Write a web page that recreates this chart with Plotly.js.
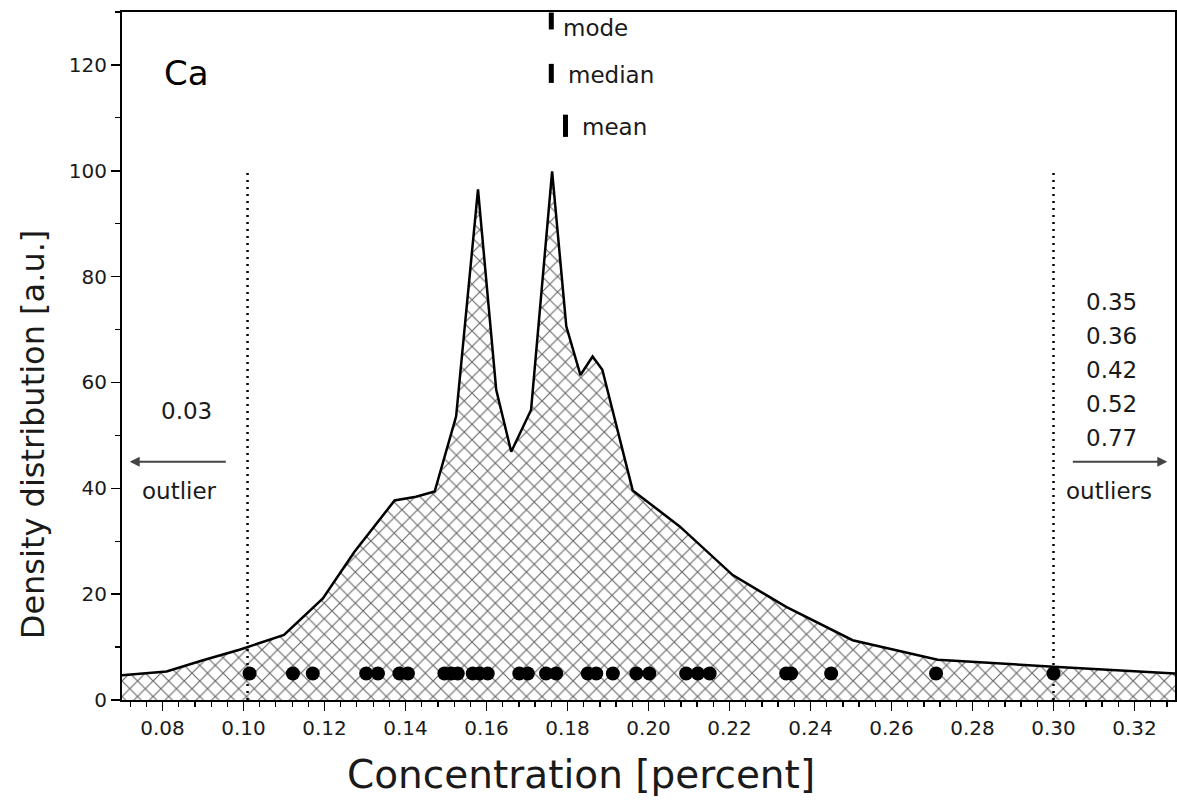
<!DOCTYPE html>
<html>
<head>
<meta charset="utf-8">
<script src="https://cdn.plot.ly/plotly-3.0.1.min.js"></script>
<style>html,body{margin:0;padding:0;background:#fff}#chart{width:1177px;height:803px}</style>
</head>
<body>
<div id="chart"></div>
<script>
// density curve
const curveX = [0.070, 0.081, 0.090, 0.099, 0.110, 0.1196, 0.1274, 0.1373, 0.1426, 0.1472, 0.1525, 0.1579, 0.1624, 0.1661, 0.1710, 0.1762, 0.1797, 0.1832, 0.1862, 0.1886, 0.1961, 0.2077, 0.2208, 0.2340, 0.2504, 0.2714, 0.300, 0.330];
const curveY = [4.7, 5.4, 7.5, 9.5, 12.3, 19.2, 28.0, 37.7, 38.4, 39.4, 53.6, 96.5, 58.6, 46.9, 54.8, 99.9, 70.6, 61.4, 64.9, 62.4, 39.6, 32.8, 23.6, 17.6, 11.3, 7.6, 6.3, 5.0];
// individual measurements
const dotsX = [0.1015, 0.1122, 0.1171, 0.1303, 0.1332, 0.1385, 0.1406, 0.1496, 0.1513, 0.1529, 0.1566, 0.1583, 0.1603, 0.1681, 0.1702, 0.1747, 0.1772, 0.1850, 0.1871, 0.1912, 0.1970, 0.2002, 0.2093, 0.2122, 0.2151, 0.2340, 0.2352, 0.2451, 0.2710, 0.3000];
const dotLevel = 5;
// outlier limits
const limitsX = [0.101, 0.300];
const limitTop = 100;
// statistics
const statNames = ['mode', 'median', 'mean'];
const statX = [0.1760, 0.1760, 0.1795];
const statBarLow = [126.7, 116.6, 106.4];
const statBarHigh = [129.9, 120.2, 110.6];
const statLabelX = [0.1788, 0.1800, 0.1837];
const statLabelY = [127.0, 118.1, 108.3];
// outliers
const leftOutliers = ['0.03'];
const rightOutliers = ['0.35', '0.36', '0.42', '0.52', '0.77'];
const xTicks = [0.08, 0.10, 0.12, 0.14, 0.16, 0.18, 0.20, 0.22, 0.24, 0.26, 0.28, 0.30, 0.32];
const yTicks = [0, 20, 40, 60, 80, 100, 120];
const xTitle = 'Concentration [percent]';
const yTitle = 'Density distribution [a.u.]';

const FONT = 'DejaVu Sans, Liberation Sans, Arial, sans-serif';
const TXT = '#1a1a1a';

const traces = [
  {
    x: curveX, y: curveY, type: 'scatter', mode: 'lines',
    line: {color: '#000', width: 2.5},
    fill: 'tozeroy',
    fillcolor: 'rgba(0,0,0,0)',
    fillpattern: {shape: 'x', size: 11, solidity: 0.2, fgcolor: '#6a6a6a', bgcolor: '#fff'},
    hoverinfo: 'skip'
  },
  {
    x: dotsX, y: dotsX.map(() => dotLevel), type: 'scatter', mode: 'markers',
    marker: {color: '#000', size: 14}
  }
];

limitsX.forEach(v => traces.push({
  x: [v, v], y: [0, limitTop], type: 'scatter', mode: 'lines',
  line: {color: '#000', width: 2.5, dash: '2px,5px'}
}));

const shapes = [];
const annotations = [];
statNames.forEach((n, i) => {
  shapes.push({type: 'line', xref: 'x', yref: 'y', x0: statX[i], x1: statX[i], y0: statBarLow[i], y1: statBarHigh[i], line: {color: '#000', width: 5}});
  annotations.push({xref: 'x', yref: 'y', x: statLabelX[i], y: statLabelY[i], text: n, showarrow: false, xanchor: 'left', yanchor: 'middle', xshift: -2, font: {family: FONT, size: 23, color: TXT}});
});

annotations.push({xref: 'x', yref: 'y', x: 0.0805, y: 118.5, text: 'Ca', showarrow: false, xanchor: 'left', yanchor: 'middle', xshift: -3, font: {family: FONT, size: 34, color: '#000'}});

// left outlier
annotations.push({xref: 'x', yref: 'y', x: 0.0859, y: 54.6, text: leftOutliers.join('<br>'), showarrow: false, font: {family: FONT, size: 23, color: TXT}});
annotations.push({xref: 'x', yref: 'y', x: 0.0843, y: 39.5, text: 'outlier', showarrow: false, font: {family: FONT, size: 23, color: TXT}});
annotations.push({xref: 'x', yref: 'y', axref: 'x', ayref: 'y', x: 0.0719, y: 45, ax: 0.0960, ay: 45, text: '', showarrow: true, arrowhead: 2, arrowsize: 1, arrowwidth: 2, arrowcolor: '#444'});

// right outliers
rightOutliers.forEach((t, i) => {
  annotations.push({xref: 'x', yref: 'y', x: 0.3143, y: 75.2 - i * 6.4, text: t, showarrow: false, font: {family: FONT, size: 23, color: TXT}});
});
annotations.push({xref: 'x', yref: 'y', x: 0.3138, y: 39.5, text: 'outliers', showarrow: false, font: {family: FONT, size: 23, color: TXT}});
annotations.push({xref: 'x', yref: 'y', axref: 'x', ayref: 'y', x: 0.3281, y: 45, ax: 0.3044, ay: 45, text: '', showarrow: true, arrowhead: 2, arrowsize: 1, arrowwidth: 2, arrowcolor: '#444'});

// axis titles (placed as in the reference, not centred on the plot area)
annotations.push({xref: 'paper', yref: 'paper', x: 0.436, y: -0.108, xanchor: 'center', yanchor: 'middle', text: xTitle, showarrow: false, font: {family: FONT, size: 39, color: TXT}});
annotations.push({xref: 'paper', yref: 'paper', x: -0.085, y: 0.387, xanchor: 'center', yanchor: 'middle', textangle: -90, text: yTitle, showarrow: false, font: {family: FONT, size: 32, color: TXT}});

const layout = {
  width: 1177, height: 803,
  margin: {l: 122, r: 2, t: 12, b: 103},
  paper_bgcolor: '#fff', plot_bgcolor: '#fff',
  showlegend: false,
  font: {family: FONT, color: '#000'},
  xaxis: {
    range: [0.07, 0.33], tickvals: xTicks, ticktext: xTicks.map(v => v.toFixed(2)),
    ticks: 'outside', ticklen: 9, tickwidth: 1.5, tickcolor: '#000',
    minor: {dtick: 0.004, tick0: 0.08, ticks: 'outside', ticklen: 5, tickwidth: 1.2, tickcolor: '#000'},
    showline: true, linecolor: '#000', linewidth: 2, mirror: true,
    showgrid: false, zeroline: false,
    tickfont: {family: FONT, size: 20, color: TXT}
  },
  yaxis: {
    range: [0, 130], tickvals: yTicks,
    ticks: 'outside', ticklen: 9, tickwidth: 1.5, tickcolor: '#000',
    minor: {dtick: 10, tick0: 0, ticks: 'outside', ticklen: 5, tickwidth: 1.2, tickcolor: '#000'},
    showline: true, linecolor: '#000', linewidth: 2, mirror: true,
    showgrid: false, zeroline: false,
    tickfont: {family: FONT, size: 20, color: TXT}
  },
  shapes: shapes,
  annotations: annotations
};

Plotly.newPlot('chart', traces, layout, {displayModeBar: false, staticPlot: true});
</script>
</body>
</html>
